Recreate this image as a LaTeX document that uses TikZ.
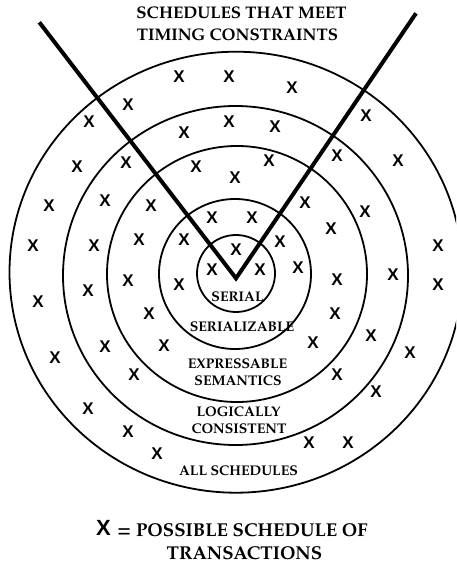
\documentclass[tikz,border=0pt]{standalone}
\usepackage{fontspec}
\newfontfamily\pal{texgyrepagella-bold.otf}
\newfontfamily\xf{Liberation Sans}
\begin{document}
\begin{tikzpicture}[x=1pt,y=-1pt,
  ring/.style={line width=1.8pt},
  vline/.style={line width=4pt, line join=miter},
  xm/.style={font=\xf\bfseries\fontsize{17}{17}\selectfont, inner sep=0pt},
  lbl/.style={font=\pal\fontsize{14}{15}\selectfont, inner sep=0pt},
  ttl/.style={font=\pal\fontsize{16.8}{18}\selectfont, inner sep=0pt},
  leg/.style={font=\pal\fontsize{18.6}{20}\selectfont, inner sep=0pt},
]
\useasboundingbox (0,0) rectangle (456,564);
\clip (0,0) rectangle (456,564);
% rings
\draw[ring] (236,273.5) ellipse [x radius=39, y radius=38.5];
\draw[ring] (235,274) ellipse [x radius=76, y radius=75];
\draw[ring] (237,274) ellipse [x radius=130, y radius=128];
\draw[ring] (235.5,275.5) ellipse [x radius=172.5, y radius=169.5];
\draw[ring] (236,272.2) ellipse [x radius=226.5, y radius=220.5];
% V lines
\coordinate (vl) at (39.3,22.3);
\coordinate (vv) at (236,278.3);
\coordinate (vr) at (416,13.3);
\draw[vline] (vl) -- (vv) -- (vr);
% X marks
\foreach \p [count=\i] in {(179,77),(229,77),(292,88),(128,105),(89,122),(366,116),
  (229,122),(184,133),(275,127),(77,167),(126,163),(196,167),(269,161),(337,156),
  (398,161),(235,178),(49,206),(105,201),(151,206),(305,203),(365,212),(212,218),
  (252,218),(331,229),(33,246),(94,246),(139,240),(184,240),(280,242),(438,246),
  (236,250),(212,270),(260,270),(298,268),(38,302),(88,291),(128,281),(179,285),
  (337,280),(393,275),(438,285),(149,314),(335,314),(55,358),(105,347),(164,346),
  (313,343),(371,336),(410,353),(134,375),(337,375),(376,392),(88,409),(128,432),
  (157,454),(309,443),(348,443)}
  \node[xm] (x\i) at \p {X};
% labels
\node[lbl] (serial) at (237.5,297) {SERIAL};
\node[lbl] (serializable) at (242,326.5) {SERIALIZABLE};
\node[lbl] (expr1) at (237.5,363.5) {EXPRESSABLE};
\node[lbl] (expr2) at (238,380.5) {SEMANTICS};
\node[lbl] (log1) at (238.5,412) {LOGICALLY};
\node[lbl] (log2) at (239,429) {CONSISTENT};
\node[lbl] (all) at (238.5,470.5) {ALL SCHEDULES};
\node[ttl] (title1) at (241.5,12.5) {SCHEDULES THAT MEET};
\node[ttl] (title2) at (237.5,34.5) {TIMING CONSTRAINTS};
% legend
\node[font=\xf\bfseries\fontsize{22}{22}\selectfont, inner sep=0pt] (legx) at (103.5,528) {X};
\node[leg] (leg1) at (242.5,530.5) {= POSSIBLE SCHEDULE OF};
\node[leg] (leg2) at (244.5,553.5) {TRANSACTIONS};
\end{tikzpicture}
\end{document}
